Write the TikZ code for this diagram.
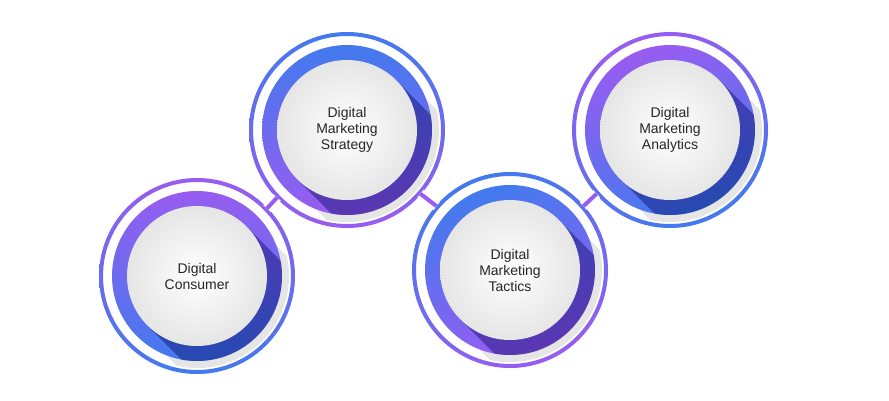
\documentclass[tikz,border=0pt]{standalone}
\usepackage{fontspec}
\setmainfont{Liberation Sans}
\definecolor{ringpurple}{RGB}{152,92,240}
\definecolor{ringblue}{RGB}{66,122,238}
\begin{document}
\begin{tikzpicture}[x=1pt,y=-1pt]
	\tikzstyle{lbl} = [align=center, font=\fontsize{14}{16}\selectfont, text=black!85]
	\tikzstyle{rim} = [circle, minimum size=194pt, inner sep=0pt]
	\useasboundingbox (0,0) rectangle (889,400);
	% one ring group: centre, name, shading angle, text
	\newcommand{\ringgroup}[4]{
		\shade[even odd rule, top color=ringpurple, bottom color=ringblue, shading angle=#3]
			#1 circle (98) circle (94);
		\begin{scope}
			\clip #1 circle (92);
			\fill[black!10] #1 ++(55,-55) -- ++(110,110) -- ++(-110,110) -- ++(-110,-110) -- cycle;
		\end{scope}
		\shade[top color=ringpurple, bottom color=ringblue, shading angle=#3]
			#1 circle (85);
		\begin{scope}
			\clip #1 circle (85);
			\fill[blue!35!black, opacity=0.4] #1 ++(49.5,-49.5) -- ++(100,100) -- ++(-99,99) -- ++(-100,-100) -- cycle;
		\end{scope}
		\shade[inner color=white, outer color=black!10] #1 circle (70);
		\node[rim] (#2) at #1 {};
		\node[lbl] at #1 {#4};
	}
	\ringgroup{(197,276)}{consumer}{0}{Digital\\Consumer}
	\ringgroup{(347,130)}{strategy}{180}{Digital\\Marketing\\Strategy}
	\ringgroup{(510,270)}{tactics}{200}{Digital\\Marketing\\Tactics}
	\ringgroup{(670,130)}{analytics}{20}{Digital\\Marketing\\Analytics}
	% links between the rims
	\foreach \a/\b/\s/\t in {consumer/strategy/44/224, strategy/tactics/-41/139, tactics/analytics/41/221}
		\draw[white, line width=10pt] (\a.\s) -- (\b.\t);
	\foreach \a/\b/\s/\t in {consumer/strategy/44/224, strategy/tactics/-41/139, tactics/analytics/41/221}
		\draw[ringpurple, line width=4pt] (\a.\s) -- (\b.\t);
\end{tikzpicture}
\end{document}
